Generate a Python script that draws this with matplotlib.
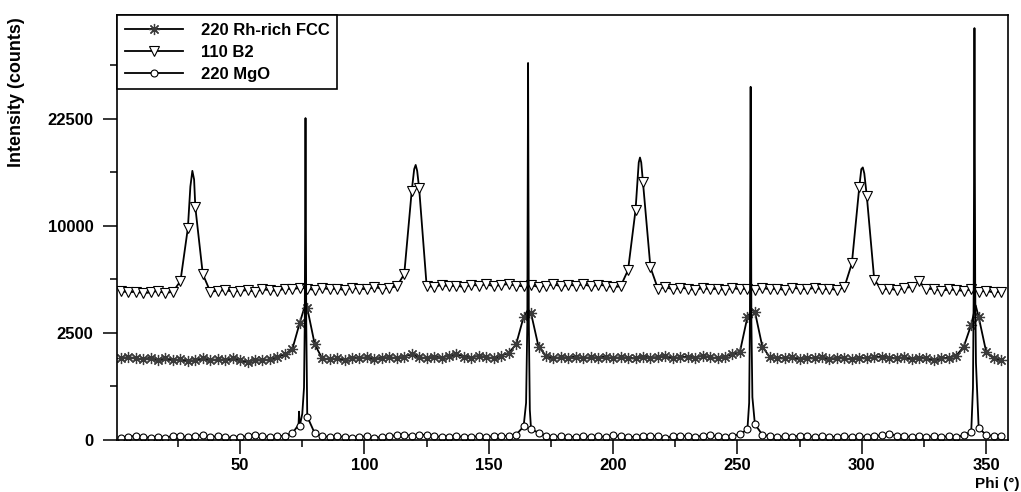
import numpy as np
import matplotlib
matplotlib.use("Agg")
import matplotlib.pyplot as plt
from matplotlib.lines import Line2D

plt.rcParams['font.family'] = ['Liberation Sans', 'DejaVu Sans']
plt.rcParams['font.weight'] = 'bold'

# phi scan: markers every 3 degrees
phi_grid = np.arange(2, 357, 3)

# 110 B2 reflection (triangles)
b2_grid = [4850, 4750, 4800, 4700, 4750, 4850, 4700, 4800, 5500, 9800,
           11800, 6000, 4800, 4850, 4900, 4800, 4850, 4900, 4800, 4950,
           4900, 4850, 5000, 4950, 5050, 5000, 4900, 5050, 4950, 5000,
           4900, 5050, 5000, 4950, 5100, 5000, 5050, 5150, 6000, 13500,
           13800, 5200, 5100, 5250, 5150, 5200, 5100, 5250, 5200, 5300,
           5150, 5250, 5300, 5200, 5150, 5250, 5100, 5200, 5300, 5150,
           5250, 5200, 5300, 5150, 5250, 5200, 5100, 5150, 6300, 11500,
           14500, 6500, 5000, 5100, 4950, 5050, 5000, 4900, 5050, 4950,
           5000, 4900, 5050, 4950, 5000, 4900, 5050, 4950, 5000, 4900,
           5050, 5000, 4950, 5050, 4950, 5000, 4900, 5100, 6800, 14000,
           13000, 5600, 4950, 5000, 4900, 5050, 5100, 5500, 4950, 5000,
           4850, 4950, 4900, 4850, 4950, 4800, 4850, 4750, 4800]
b2_peak_phi = [30.0, 30.8, 31.5, 120.0, 120.6, 121.2, 210.3, 210.8, 211.3, 299.8, 300.4, 301.0]
b2_peak_val = [14000, 15800, 14800, 16000, 16500, 15800, 16800, 17400, 16800, 16000, 16200, 15500]

# 220 Rh-rich FCC reflection (asterisks)
fcc_grid = [1450, 1500, 1450, 1420, 1480, 1400, 1450, 1380, 1420, 1350,
            1400, 1450, 1380, 1420, 1400, 1450, 1380, 1330, 1400, 1380,
            1420, 1500, 1600, 1800, 3000, 3800, 2000, 1450, 1420, 1450,
            1400, 1480, 1450, 1500, 1430, 1480, 1500, 1450, 1520, 1600,
            1500, 1450, 1520, 1480, 1550, 1600, 1520, 1480, 1550, 1500,
            1450, 1550, 1650, 2000, 3300, 3500, 1900, 1550, 1450, 1500,
            1480, 1520, 1450, 1500, 1480, 1520, 1450, 1500, 1480, 1450,
            1520, 1480, 1500, 1550, 1450, 1500, 1520, 1480, 1550, 1500,
            1450, 1520, 1600, 1700, 3300, 3600, 1900, 1500, 1480, 1450,
            1500, 1420, 1480, 1450, 1500, 1420, 1480, 1450, 1420, 1480,
            1450, 1500, 1520, 1480, 1450, 1500, 1420, 1480, 1450, 1400,
            1450, 1480, 1550, 1900, 2900, 3300, 1700, 1450, 1400]
fcc_peak_phi = [76.2, 165.8, 256.0, 345.8]
fcc_peak_val = [4000, 3700, 3700, 3950]

# 220 MgO reflection (circles)
mgo_grid = [1, 2, 4, 2, 1, 2, 1, 4, 3, 2,
            4, 5, 2, 3, 2, 1, 2, 3, 6, 3,
            2, 3, 4, 10, 45, 120, 10, 3, 2, 3,
            2, 1, 2, 3, 1, 2, 3, 5, 6, 4,
            5, 6, 3, 2, 2, 3, 2, 2, 3, 2,
            3, 4, 3, 6, 40, 25, 12, 4, 2, 3,
            2, 2, 3, 2, 3, 2, 5, 3, 2, 2,
            3, 4, 3, 1, 3, 4, 3, 2, 4, 5,
            3, 2, 4, 7, 25, 55, 6, 3, 2, 3,
            2, 4, 3, 2, 3, 2, 2, 3, 2, 3,
            2, 3, 5, 8, 4, 3, 2, 3, 2, 3,
            2, 3, 2, 5, 15, 30, 6, 3, 3]
mgo_peak_phi = [73.5, 73.7, 73.9, 75.0, 75.7, 76.0, 76.3, 76.6, 76.9,
                165.0, 165.5, 165.8, 166.1, 166.5,
                254.7, 255.0, 255.3, 255.6, 256.0,
                344.7, 345.0, 345.3, 345.6, 345.9]
mgo_peak_val = [50, 175, 50, 150, 600, 3000, 22600, 3000, 500,
                300, 3000, 31000, 3000, 200,
                300, 3000, 27200, 3000, 400,
                600, 5000, 37000, 5000, 1300]

labels = ['220 Rh-rich FCC', '110 B2', '220 MgO']


def merge(grid_vals, peak_phi, peak_val):
    x = np.concatenate([phi_grid, peak_phi])
    y = np.concatenate([grid_vals, peak_val])
    order = np.argsort(x, kind='stable')
    marks = [i for i, o in enumerate(order) if o < len(phi_grid)]
    return x[order], y[order], marks


fig = plt.figure(figsize=(10.21, 4.92), dpi=100)
ax = fig.add_axes([0.1146, 0.1057, 0.8727, 0.8628])

# square-root intensity axis
ax.set_yscale('function', functions=(lambda v: np.sqrt(np.clip(v, 0, None)),
                                     lambda s: np.square(s)))

styles = [
    dict(marker=(8, 2, 0), markersize=8, markeredgecolor='#3a3a3a', markeredgewidth=0.9),
    dict(marker='v', markersize=6.5, markerfacecolor='white', markeredgecolor='black', markeredgewidth=0.8),
    dict(marker='o', markersize=5, markerfacecolor='white', markeredgecolor='black', markeredgewidth=0.8),
]
series = [(fcc_grid, fcc_peak_phi, fcc_peak_val),
          (b2_grid, b2_peak_phi, b2_peak_val),
          (mgo_grid, mgo_peak_phi, mgo_peak_val)]

for (g, pp, pv), st in zip(series, styles):
    x, y, marks = merge(g, pp, pv)
    ax.plot(x, y, color='black', lw=1.3, markevery=marks, **st)

ax.set_xlim(0.5, 358.8)
ax.set_ylim(0, 39300)
ax.set_xticks([50, 100, 150, 200, 250, 300, 350])
ax.set_xticks(np.arange(25, 360, 50), minor=True)
ax.set_yticks([0, 2500, 10000, 22500])
ax.set_yticks([625, 5625, 15625, 30625], minor=True)
ax.set_yticklabels(['0', '2500', '10000', '22500'])
ax.tick_params(which='major', direction='out', length=10, width=1.1, labelsize=12, pad=3)
ax.tick_params(axis='y', which='major', pad=7)
ax.tick_params(which='minor', direction='out', length=5, width=1.1)
for sp in ax.spines.values():
    sp.set_linewidth(1.2)

ax.set_ylabel('Intensity (counts)', fontsize=13, fontweight='bold')
ax.yaxis.set_label_coords(-0.103, 0.82)
fig.text(0.999, 1 - 484 / 492, 'Phi (°)', ha='right', va='center', fontsize=11, fontweight='bold')

handles = [Line2D([], [], color='black', lw=1.3, **st) for st in styles]
leg = ax.legend(handles, labels, loc='upper left', fontsize=12, frameon=True, fancybox=False,
                edgecolor='black', framealpha=1, borderaxespad=0, handlelength=3.5,
                labelspacing=0.42, borderpad=0.45, handletextpad=1.1)
leg.get_frame().set_linewidth(1.2)
for t in leg.get_texts():
    t.set_fontweight('bold')

fig.savefig('out.png', dpi=100)
